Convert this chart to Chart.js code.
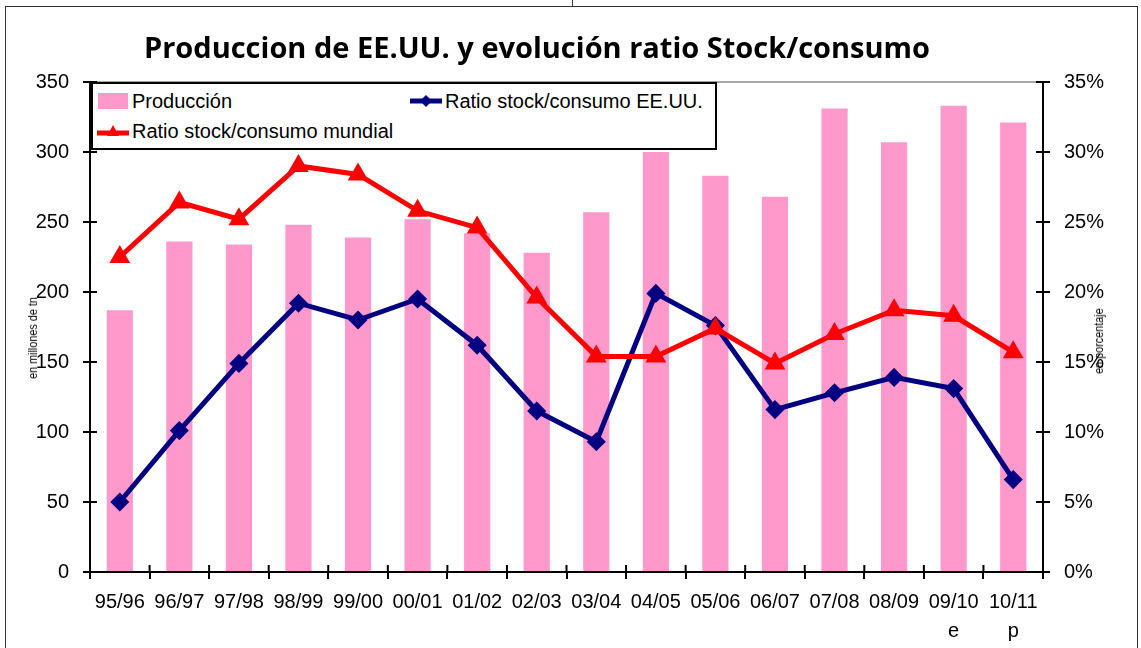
<!DOCTYPE html>
<html>
<head>
<meta charset="utf-8">
<script src="https://cdn.jsdelivr.net/npm/chart.js@4"></script>
<style>
  body { margin: 0; background: #fff; }
  #wrap { position: relative; width: 1141px; height: 648px; overflow: hidden; }
  #frame { position: absolute; left: 5px; top: 6px; width: 1131px; height: 700px; border: 1.5px solid #333; }
  #notch { position: absolute; left: 572px; top: 0; width: 1px; height: 6px; background: #333; }
  canvas { position: absolute; left: 0; top: 0; }
  #title { position: absolute; left: 0; width: 1074px; top: 27px; text-align: center;
           font: bold 29px "Open Sans", sans-serif; color: #000; }
  .axt { position: absolute; font: 12px "Liberation Sans", sans-serif; color: #000;
         transform: translate(-50%, -50%) rotate(-90deg) scaleX(0.9); white-space: nowrap; }
  #legend { position: absolute; left: 91px; top: 82px; width: 622px; height: 64px; background: #fff;
            border: 2px solid #000; font: 20px "Liberation Sans", sans-serif; color: #000; }
  .li { position: absolute; display: flex; align-items: center; white-space: nowrap; }
  .li svg { margin-right: 3px; }
</style>
</head>
<body>
<div id="wrap">
  <div id="frame"></div>
  <div id="notch"></div>
  <canvas id="chart"></canvas>
  <div id="title">Produccion de EE.UU. y evolución ratio Stock/consumo</div>
  <div class="axt" style="left:33px; top:338px;">en millones de tn</div>
  <div class="axt" style="left:1099px; top:341px;">en porcentaje</div>
  <div id="legend">
    <div class="li" style="left:4px; top:2px; height:30px;">
      <svg width="32" height="18"><rect x="1" y="1" width="30" height="16" fill="#FF99CC"/></svg>Producción
    </div>
    <div class="li" style="left:317px; top:2px; height:30px;">
      <svg width="32" height="18"><line x1="0" y1="9" x2="32" y2="9" stroke="#000080" stroke-width="5"/><polygon points="16,3 22,9 16,15 10,9" fill="#000080"/></svg>Ratio stock/consumo EE.UU.
    </div>
    <div class="li" style="left:4px; top:32px; height:30px;">
      <svg width="32" height="18"><line x1="0" y1="11" x2="32" y2="11" stroke="#FF0000" stroke-width="5"/><polygon points="16,3 22,14 10,14" fill="#FF0000"/></svg>Ratio stock/consumo mundial
    </div>
  </div>
</div>
<script>
const campaigns = ['95/96', '96/97', '97/98', '98/99', '99/00', '00/01', '01/02', '02/03',
                   '03/04', '04/05', '05/06', '06/07', '07/08', '08/09', ['09/10', 'e'], ['10/11', 'p']];
const produccion = [187, 236, 234, 248, 239, 252, 242, 228, 257, 300, 283, 268, 331, 307, 333, 321];
const ratioEEUU = [5.0, 10.1, 14.9, 19.2, 18.0, 19.5, 16.2, 11.5, 9.3, 19.9, 17.6, 11.6, 12.8, 13.9, 13.1, 6.6];
const ratioMundial = [22.5, 26.4, 25.2, 29.0, 28.4, 25.8, 24.6, 19.6, 15.4, 15.4, 17.4, 14.9, 17.0, 18.7, 18.3, 15.7];

const tickFont = { family: '"Liberation Sans", sans-serif', size: 20 };

// inner half of the "cross" tick marks + grey top border of the plot area
const crossTicks = {
    id: 'crossTicks',
    afterDraw(chart) {
        const ctx = chart.ctx, a = chart.chartArea;
        ctx.save();
        ctx.strokeStyle = '#888';
        ctx.lineWidth = 1.5;
        ctx.beginPath(); ctx.moveTo(a.left, a.top); ctx.lineTo(a.right, a.top); ctx.stroke();
        ctx.strokeStyle = '#000';
        ctx.lineWidth = 2;
        ctx.beginPath();
        const y = chart.scales.y, y1 = chart.scales.y1, x = chart.scales.x;
        y.ticks.forEach(t => { const p = y.getPixelForValue(t.value); ctx.moveTo(a.left, p); ctx.lineTo(a.left + 7, p); });
        y1.ticks.forEach(t => { const p = y1.getPixelForValue(t.value); ctx.moveTo(a.right, p); ctx.lineTo(a.right - 7, p); });
        const half = (x.getPixelForValue(1) - x.getPixelForValue(0)) / 2;
        for (let i = 0; i <= campaigns.length; i++) {
            const p = x.getPixelForValue(0) - half + i * half * 2;
            ctx.moveTo(p, a.bottom); ctx.lineTo(p, a.bottom - 7);
        }
        ctx.stroke();
        ctx.restore();
    }
};

new Chart(document.getElementById('chart'), {
    type: 'bar',
    data: {
        labels: campaigns,
        datasets: [
            {
                type: 'line', label: 'Ratio stock/consumo EE.UU.', data: ratioEEUU, yAxisID: 'y1',
                borderColor: '#000080', backgroundColor: '#000080', borderWidth: 5,
                pointStyle: 'rectRot', pointRadius: 6, tension: 0, order: 1
            },
            {
                type: 'line', label: 'Ratio stock/consumo mundial', data: ratioMundial, yAxisID: 'y1',
                borderColor: '#FF0000', backgroundColor: '#FF0000', borderWidth: 5,
                pointStyle: 'triangle', pointRadius: 7, tension: 0, order: 0
            },
            {
                label: 'Producción', data: produccion, yAxisID: 'y',
                backgroundColor: '#FF99CC', barPercentage: 0.44, categoryPercentage: 1, order: 2
            }
        ]
    },
    options: {
        responsive: true,
        maintainAspectRatio: false,
        animation: false,
        layout: { padding: { top: 82, left: 0, right: 0, bottom: 0 } },
        plugins: { legend: { display: false }, title: { display: false }, tooltip: { enabled: false } },
        scales: {
            x: {
                grid: { drawOnChartArea: false, offset: true, tickLength: 7, color: '#000', lineWidth: 2 },
                border: { color: '#000', width: 2 },
                ticks: { color: '#000', font: { ...tickFont, lineHeight: 1.45 }, padding: 9, maxRotation: 0, autoSkip: false },
                afterFit: s => { s.height = 76; }
            },
            y: {
                position: 'left', min: 0, max: 350,
                ticks: { stepSize: 50, color: '#000', font: tickFont, padding: 14 },
                grid: { drawOnChartArea: false, tickLength: 7, color: '#000', lineWidth: 2 },
                border: { color: '#000', width: 2 },
                afterFit: s => { s.width = 90; }
            },
            y1: {
                position: 'right', min: 0, max: 35,
                ticks: { stepSize: 5, color: '#000', font: tickFont, padding: 14, callback: v => v + '%' },
                grid: { drawOnChartArea: false, tickLength: 7, color: '#000', lineWidth: 2 },
                border: { color: '#000', width: 2 },
                afterFit: s => { s.width = 98; }
            }
        }
    },
    plugins: [crossTicks]
});
</script>
</body>
</html>
